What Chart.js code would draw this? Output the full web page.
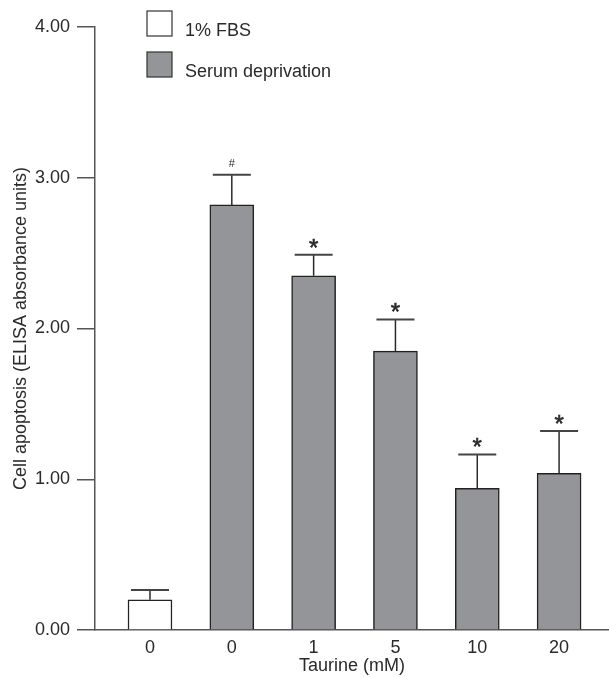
<!DOCTYPE html>
<html>
<head>
<meta charset="utf-8">
<script src="https://cdn.jsdelivr.net/npm/chart.js@4/dist/chart.umd.min.js"></script>
<style>
  html, body { margin: 0; padding: 0; background: #fff; }
  #wrap { width: 609px; height: 677px; }
</style>
</head>
<body>
<div id="wrap"><canvas id="c" width="609" height="677"></canvas></div>
<script>
// Taurine concentrations on the x axis (first group is the 1% FBS control)
const categories = ['0', '0', '1', '5', '10', '20'];
const groups = ['1% FBS', 'Serum deprivation', 'Serum deprivation', 'Serum deprivation', 'Serum deprivation', 'Serum deprivation'];
// Mean apoptosis (ELISA absorbance units) and SEM
const means = [0.20, 2.82, 2.35, 1.85, 0.94, 1.04];
const sems = [0.065, 0.20, 0.14, 0.21, 0.225, 0.28];
// Significance markers
const marks = ['', '#', '*', '*', '*', '*'];
const yTicks = [0, 1, 2, 3, 4];
const seriesNames = ['1% FBS', 'Serum deprivation'];

const FONT = '"Liberation Sans", Arial, Helvetica, sans-serif';
const INK = '#2a2a2a';
const AXIS = '#555';
const GREY = '#939598';

function pointsFor(name) {
  const pts = [];
  categories.forEach((c, i) => { if (groups[i] === name) pts.push({ x: i, y: means[i] }); });
  return pts;
}

// Error bars and significance markers
const errorBars = {
  id: 'errorBars',
  afterDatasetsDraw(chart) {
    const { ctx, scales: { x, y } } = chart;
    ctx.save();
    means.forEach((m, i) => {
      const px = x.getPixelForValue(i);
      const top = y.getPixelForValue(m + sems[i]);
      const base = y.getPixelForValue(m);
      ctx.strokeStyle = INK;
      ctx.lineWidth = 1.5;
      ctx.beginPath();
      ctx.moveTo(px, base);
      ctx.lineTo(px, top);
      ctx.stroke();
      ctx.strokeStyle = '#444';
      ctx.lineWidth = 2;
      ctx.beginPath();
      ctx.moveTo(px - 19, top);
      ctx.lineTo(px + 19, top);
      ctx.stroke();
      if (marks[i]) {
        ctx.fillStyle = INK;
        ctx.strokeStyle = INK;
        ctx.textAlign = 'center';
        ctx.textBaseline = 'alphabetic';
        if (marks[i] === '#') {
          ctx.font = '11px ' + FONT;
          ctx.fillText(marks[i], px, top - 8);
        } else {
          ctx.font = '24px ' + FONT;
          ctx.lineWidth = 0.6;
          ctx.fillText(marks[i], px, top + 1);
          ctx.strokeText(marks[i], px, top + 1);
        }
      }
    });
    ctx.restore();
  }
};

// Vertical legend in the upper part of the plot
const boxLegend = {
  id: 'boxLegend',
  afterDraw(chart) {
    const { ctx, chartArea } = chart;
    const x0 = chartArea.left + 52;
    let y0 = chartArea.top - 16;
    ctx.save();
    chart.data.datasets.forEach((ds) => {
      ctx.fillStyle = ds.backgroundColor;
      ctx.fillRect(x0, y0, 25, 25);
      ctx.strokeStyle = '#333';
      ctx.lineWidth = 1.2;
      ctx.strokeRect(x0, y0, 25, 25);
      ctx.fillStyle = INK;
      ctx.font = '18px ' + FONT;
      ctx.textAlign = 'left';
      ctx.textBaseline = 'middle';
      ctx.fillText(ds.label, x0 + 38, y0 + 20);
      y0 += 41;
    });
    ctx.restore();
  }
};

new Chart(document.getElementById('c'), {
  type: 'bar',
  data: {
    datasets: [
      { label: seriesNames[0], data: pointsFor(seriesNames[0]), backgroundColor: '#ffffff', borderColor: '#222', borderWidth: 1.5 },
      { label: seriesNames[1], data: pointsFor(seriesNames[1]), backgroundColor: GREY, borderColor: '#222', borderWidth: 1.5 }
    ]
  },
  options: {
    responsive: false,
    animation: false,
    grouped: false,
    barThickness: 44,
    layout: { padding: { top: 27, right: 0, left: 0, bottom: 0 } },
    plugins: { legend: { display: false }, tooltip: { enabled: false } },
    scales: {
      x: {
        type: 'linear',
        offset: false,
        min: -0.672,
        max: 5.61,
        afterFit(s) { s.height = 47; },
        grid: { display: false, drawTicks: false },
        border: { display: true, color: AXIS, width: 1.5 },
        afterBuildTicks(s) { s.ticks = categories.map((_, i) => ({ value: i })); },
        ticks: {
          includeBounds: false,
          autoSkip: false,
          maxRotation: 0,
          padding: 7,
          color: INK,
          font: { family: FONT, size: 18 },
          callback: (v) => categories[v]
        },
        title: { display: true, text: 'Taurine (mM)', color: INK, font: { family: FONT, size: 18 }, padding: { top: -3, bottom: 0 } }
      },
      y: {
        min: 0,
        max: 4,
        afterFit(s) { s.width = 95; },
        afterBuildTicks(s) { s.ticks = yTicks.map(v => ({ value: v })); },
        grid: { drawOnChartArea: false, drawTicks: true, tickLength: 18, color: AXIS, lineWidth: 1.5 },
        border: { display: true, color: AXIS, width: 1.5 },
        ticks: {
          padding: 7,
          color: INK,
          font: { family: FONT, size: 18 },
          callback: (v) => Number(v).toFixed(2)
        },
        title: { display: true, text: 'Cell apoptosis (ELISA absorbance units)', color: INK, font: { family: FONT, size: 18 }, padding: { top: 10, bottom: 0 } }
      }
    }
  },
  plugins: [errorBars, boxLegend]
});
</script>
</body>
</html>
